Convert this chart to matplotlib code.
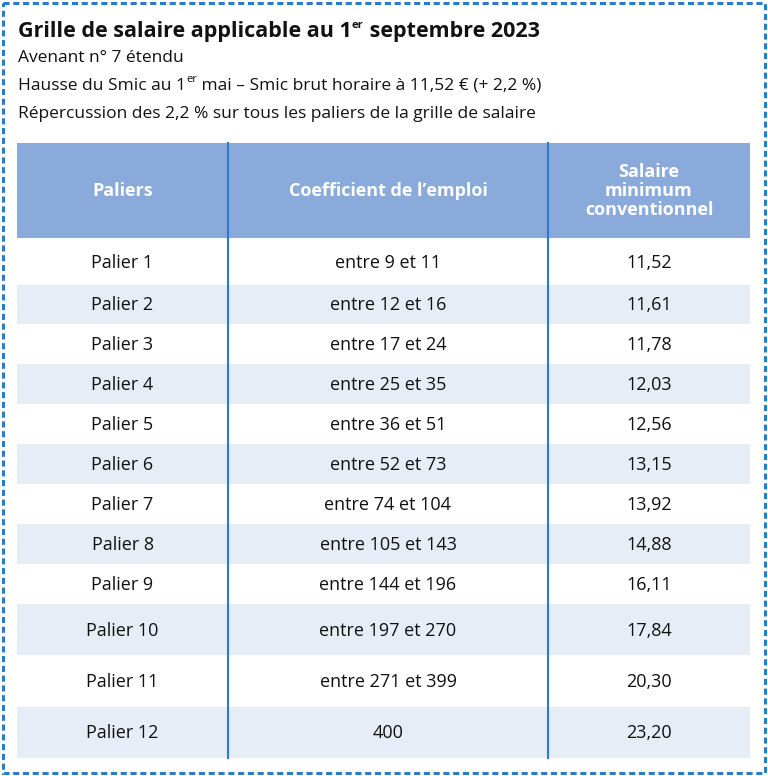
import matplotlib
matplotlib.use("Agg")
import matplotlib.pyplot as plt
from matplotlib.patches import Rectangle

paliers = [f"Palier {i}" for i in range(1, 13)]
coefficients = ["entre 9 et 11", "entre 12 et 16", "entre 17 et 24", "entre 25 et 35",
                "entre 36 et 51", "entre 52 et 73", "entre 74 et 104", "entre 105 et 143",
                "entre 144 et 196", "entre 197 et 270", "entre 271 et 399", "400"]
salaires = ["11,52", "11,61", "11,78", "12,03", "12,56", "13,15", "13,92", "14,88",
            "16,11", "17,84", "20,30", "23,20"]
headers = ["Paliers", "Coefficient de l\u2019emploi", "Salaire\nminimum\nconventionnel"]

FONT = "Open Sans"
W, H = 768, 776
fig = plt.figure(figsize=(W/100, H/100), dpi=100)
ax = fig.add_axes([0, 0, 1, 1])
ax.set_xlim(0, W); ax.set_ylim(H, 0); ax.axis("off")

blue = "#2a7bc8"; head = "#8aaadb"; shade = "#e7edf7"
ax.add_patch(Rectangle((3, 3), W-6, H-6, fill=False, ec=blue, lw=2.2, ls=(0, (2, 1.2))))

fig.canvas.draw()
r = fig.canvas.get_renderer()

def seq(x, y, parts):
    for txt, sup, kw in parts:
        opts = dict(fontsize=(8 if sup else 12.5), family=FONT, va="center", ha="left", color="#111")
        opts.update(kw)
        t = ax.text(x, y - (7 if sup else 0), txt, **opts)
        bb = t.get_window_extent(r)
        x += bb.width * W / fig.bbox.width

seq(18, 32, [("Grille de salaire applicable au 1", False, dict(fontweight="bold", fontsize=15.5)),
             ("er", True, dict(fontweight="bold")),
             (" septembre 2023", False, dict(fontweight="bold", fontsize=15.5))])
seq(18, 58, [("Avenant n\u00b0 7 \u00e9tendu", False, {})])
seq(18, 86, [("Hausse du Smic au 1", False, {}), ("er", True, {}),
             (" mai \u2013 Smic brut horaire \u00e0 11,52 \u20ac (+ 2,2 %)", False, {})])
seq(18, 114, [("R\u00e9percussion des 2,2 % sur tous les paliers de la grille de salaire", False, {})])

xl, xr = 17, 750
cols = [17, 228, 548, 750]
bounds = [238, 285, 324, 364, 404, 444, 484, 524, 564, 604, 655, 707, 758]
ax.add_patch(Rectangle((xl, 143), xr-xl, 238-143, color=head, lw=0))
for i in range(12):
    if i % 2 == 1:
        ax.add_patch(Rectangle((xl, bounds[i]), xr-xl, bounds[i+1]-bounds[i], color=shade, lw=0))
for cx in cols[1:3]:
    ax.plot([cx, cx], [143, 758], color=blue, lw=1.5)

centers = [(cols[j]+cols[j+1])/2 for j in range(3)]
for j, h in enumerate(headers):
    ax.text(centers[j], 191, h, ha="center", va="center", color="white", fontweight="bold",
            fontsize=13, family=FONT, linespacing=1.05)
for i in range(12):
    y = (bounds[i]+bounds[i+1])/2 + 1
    for j, v in enumerate([paliers[i], coefficients[i], salaires[i]]):
        ax.text(centers[j], y, v, ha="center", va="center", fontsize=13, family=FONT, color="#111")

fig.savefig("out.png", dpi=100)
